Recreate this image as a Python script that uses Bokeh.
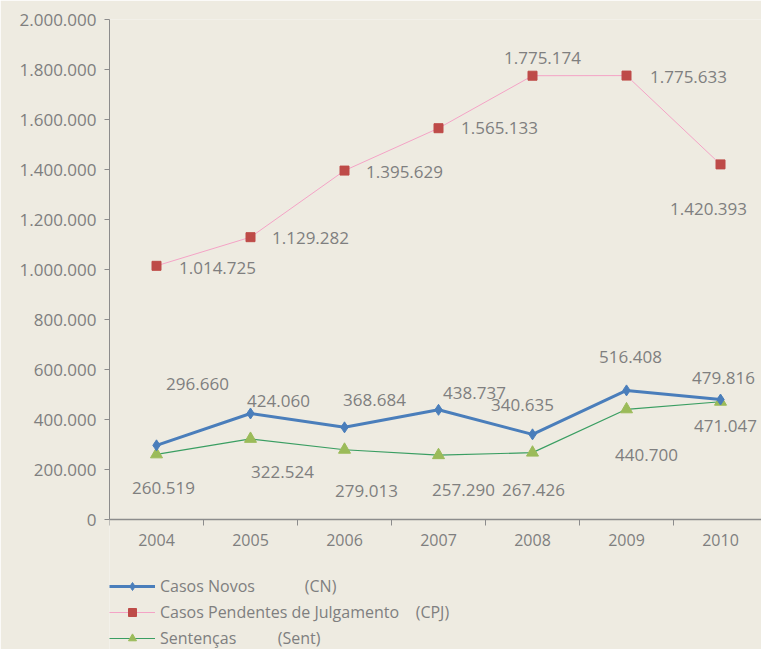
from bokeh.plotting import figure
from bokeh.models import ColumnDataSource, Range1d, FixedTicker, Legend, LegendItem
from bokeh.embed import file_html
from bokeh.resources import INLINE
from bokeh.core.properties import value

# ---- data ----
years = ["2004", "2005", "2006", "2007", "2008", "2009", "2010"]
casos_novos = [296660, 424060, 368684, 438737, 340635, 516408, 479816]
casos_pendentes = [1014725, 1129282, 1395629, 1565133, 1775174, 1775633, 1420393]
sentencas = [260519, 322524, 279013, 257290, 267426, 440700, 471047]
y_ticks = [0, 200000, 400000, 600000, 800000, 1000000, 1200000, 1400000,
           1600000, 1800000, 2000000]

# label offsets (pixels) - styling only
cn_dx = [41, 28, 30, 36, -10, 4, 3]
cn_dy = [-61, -12, -27, -17, -29, -33, -22]
cpj_dx = [61, 60, 60, 61, 10, 62, -12]
cpj_dy = [2, 1, 1, 0, -18, 1, 45]
st_dx = [7, 32, 22, 25, 1, 20, 5]
st_dy = [34, 33, 41, 35, 37, 46, 24]

BG = "#EEEBE1"
GREY = "#7f7f7f"
AXIS = "#8c8c8c"
FONT = "Open Sans"


def fmt(v):
    return f"{v:,}".replace(",", ".")


xs = list(range(len(years)))

p = figure(width=761, height=649, output_backend="svg", toolbar_location=None,
           x_range=Range1d(-0.5, 6.436), y_range=Range1d(-520000, 2000000),
           min_border_left=109, min_border_right=0, min_border_top=19,
           min_border_bottom=0)
p.background_fill_color = BG
p.border_fill_color = BG
p.outline_line_color = None
p.xgrid.visible = False
p.ygrid.visible = False

# axes
xa = p.xaxis[0]
xa.fixed_location = 0
xa.ticker = FixedTicker(ticks=xs, minor_ticks=[i - 0.5 for i in range(len(years) + 1)])
xa.major_label_overrides = {i: y for i, y in enumerate(years)}
xa.major_tick_line_color = None
xa.minor_tick_out = 6
xa.minor_tick_in = 0
xa.minor_tick_line_color = AXIS
xa.axis_line_color = AXIS
xa.axis_line_width = 1.5
xa.major_label_text_font = FONT
xa.major_label_text_font_size = "16px"
xa.major_label_text_color = GREY
xa.major_label_standoff = 8

ya = p.yaxis[0]
ya.bounds = (0, 2000000)
ya.ticker = FixedTicker(ticks=y_ticks, minor_ticks=[])
ya.major_label_overrides = {t: fmt(t) for t in y_ticks}
ya.major_tick_out = 5
ya.major_tick_in = 0
ya.major_tick_line_color = AXIS
ya.minor_tick_line_color = None
ya.axis_line_color = AXIS
ya.major_label_text_font = FONT
ya.major_label_text_font_size = "17px"
ya.major_label_text_color = GREY
ya.major_label_standoff = 8

# series
BLUE = "#4A7EBB"
RED = "#BE4B48"
PINK = "#F4A3C6"
GREEN = "#3A9E62"
LGREEN = "#9BBB59"

src_cn = ColumnDataSource(dict(x=xs, y=casos_novos, t=[fmt(v) for v in casos_novos], dx=cn_dx, dy=cn_dy))
src_cpj = ColumnDataSource(dict(x=xs, y=casos_pendentes, t=[fmt(v) for v in casos_pendentes], dx=cpj_dx, dy=cpj_dy))
src_st = ColumnDataSource(dict(x=xs, y=sentencas, t=[fmt(v) for v in sentencas], dx=st_dx, dy=st_dy))

l_cpj = p.line("x", "y", source=src_cpj, line_color=PINK, line_width=1)
m_cpj = p.scatter("x", "y", source=src_cpj, marker="square", size=9, fill_color=RED, line_color=RED)

l_st = p.line("x", "y", source=src_st, line_color=GREEN, line_width=1.2)
m_st = p.scatter("x", "y", source=src_st, marker="triangle", size=12, fill_color=LGREEN, line_color=LGREEN)

l_cn = p.line("x", "y", source=src_cn, line_color=BLUE, line_width=3)
m_cn = p.scatter("x", "y", source=src_cn, marker="diamond", size=11, fill_color=BLUE, line_color=BLUE)

for src in (src_cn, src_cpj, src_st):
    p.text("x", "y", text="t", source=src, x_offset="dx", y_offset="dy",
           text_align="center", text_baseline="middle",
           text_font=value(FONT), text_font_size="17px", text_color=GREY)

nb = "\u00a0"
legend = Legend(items=[
    LegendItem(label="Casos Novos" + nb * 12 + "(CN)", renderers=[l_cn, m_cn]),
    LegendItem(label="Casos Pendentes de Julgamento" + nb * 4 + "(CPJ)", renderers=[l_cpj, m_cpj]),
    LegendItem(label="Sentenças" + nb * 10 + "(Sent)", renderers=[l_st, m_st]),
], location=(0, 0))
legend.background_fill_alpha = 0
legend.border_line_color = None
legend.padding = 0
legend.margin = 0
legend.spacing = 4
legend.glyph_width = 46
legend.glyph_height = 20
legend.label_height = 20
legend.label_standoff = 5
legend.label_text_font = FONT
legend.label_text_font_size = "16px"
legend.label_text_color = GREY
p.add_layout(legend, "center")

open("out.html", "w").write(file_html(p, INLINE))
